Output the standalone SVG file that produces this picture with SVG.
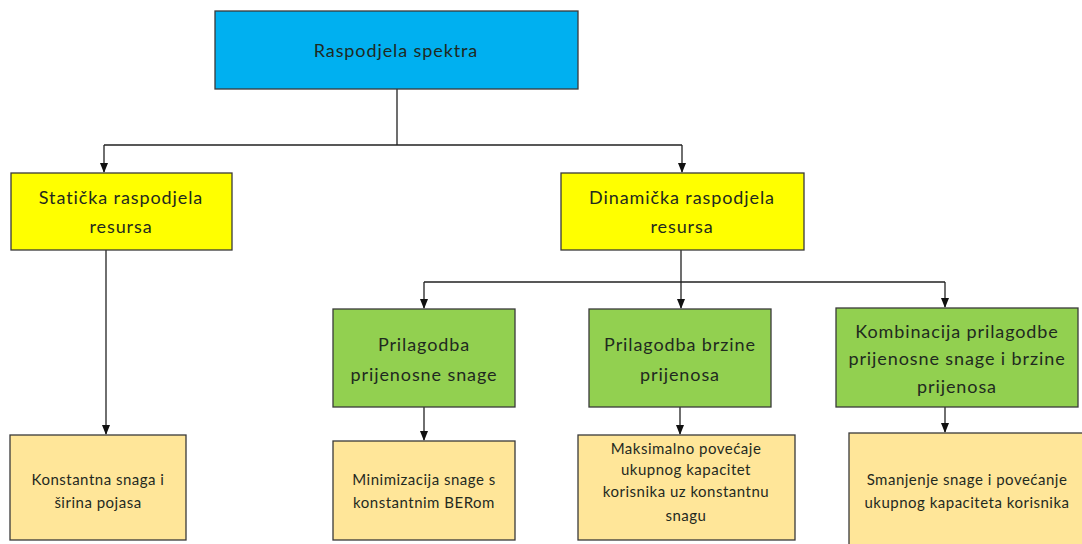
<svg xmlns="http://www.w3.org/2000/svg" width="1082" height="544" viewBox="0 0 1082 544">
<defs>
<marker id="arr" markerWidth="10" markerHeight="10" refX="9" refY="5" orient="auto" markerUnits="userSpaceOnUse">
<path d="M0,1 L10,5 L0,9 Z" fill="#111"/>
</marker>
<style>
.box{stroke:#3a3a3a;stroke-width:1.3}
.blue{fill:#00B0F0}.yel{fill:#FFFF00}.grn{fill:#92D050}.tan{fill:#FFE699}
text{font-family:"Lato","Open Sans","Liberation Sans",sans-serif;fill:#1f2a1f;text-anchor:middle}
.t1{font-size:18px;letter-spacing:0.9px}.t2{font-size:15px;letter-spacing:0.5px}
.c{fill:none;stroke:#222;stroke-width:1.3}
</style>
</defs>
<rect width="1082" height="544" fill="#fff"/>
<g id="connectors">
<path class="c" d="M397,89 V145 M104,145 H682"/>
<path class="c" d="M104,145 V172" marker-end="url(#arr)"/>
<path class="c" d="M682,145 V172" marker-end="url(#arr)"/>
<path class="c" d="M106,250 V434" marker-end="url(#arr)"/>
<path class="c" d="M681,250 V282 M424,282 H945"/>
<path class="c" d="M424,282 V308" marker-end="url(#arr)"/>
<path class="c" d="M681,282 V308" marker-end="url(#arr)"/>
<path class="c" d="M945,282 V307" marker-end="url(#arr)"/>
<path class="c" d="M424,407 V440" marker-end="url(#arr)"/>
<path class="c" d="M680,407 V434" marker-end="url(#arr)"/>
<path class="c" d="M945,407 V432" marker-end="url(#arr)"/>
</g>
<g id="n-root"><rect class="box blue" x="215" y="11" width="363" height="78"/><text class="t1" x="396" y="57">Raspodjela spektra</text></g>
<g id="n-static"><rect class="box yel" x="11" y="173" width="221" height="77"/><text class="t1" x="121" y="204">Statička raspodjela</text><text class="t1" x="121" y="233">resursa</text></g>
<g id="n-dynamic"><rect class="box yel" x="561" y="173" width="243" height="77"/><text class="t1" x="682" y="204">Dinamička raspodjela</text><text class="t1" x="682" y="233">resursa</text></g>
<g id="n-power"><rect class="box grn" x="333" y="309" width="182" height="98"/><text class="t1" x="424" y="351">Prilagodba</text><text class="t1" x="424" y="381">prijenosne snage</text></g>
<g id="n-rate"><rect class="box grn" x="589" y="309" width="182" height="98"/><text class="t1" x="680" y="351">Prilagodba brzine</text><text class="t1" x="680" y="381">prijenosa</text></g>
<g id="n-combo"><rect class="box grn" x="836" y="308" width="242" height="99"/><text class="t1" x="957" y="338">Kombinacija prilagodbe</text><text class="t1" x="957" y="365">prijenosne snage i brzine</text><text class="t1" x="957" y="393">prijenosa</text></g>
<g id="n-const"><rect class="box tan" x="10" y="435" width="176" height="105"/><text class="t2" x="98" y="485">Konstantna snaga i</text><text class="t2" x="98" y="508">širina pojasa</text></g>
<g id="n-min"><rect class="box tan" x="333" y="441" width="182" height="99"/><text class="t2" x="424" y="485">Minimizacija snage s</text><text class="t2" x="424" y="508">konstantnim BERom</text></g>
<g id="n-max"><rect class="box tan" x="578" y="435" width="217" height="105"/><text class="t2" x="686" y="454">Maksimalno povećaje</text><text class="t2" x="686" y="475">ukupnog kapacitet</text><text class="t2" x="686" y="497">korisnika uz konstantnu</text><text class="t2" x="686" y="521">snagu</text></g>
<g id="n-reduce"><rect class="box tan" x="849" y="433" width="240" height="120"/><text class="t2" x="967" y="485">Smanjenje snage i povećanje</text><text class="t2" x="967" y="508">ukupnog kapaciteta korisnika</text></g>
</svg>
